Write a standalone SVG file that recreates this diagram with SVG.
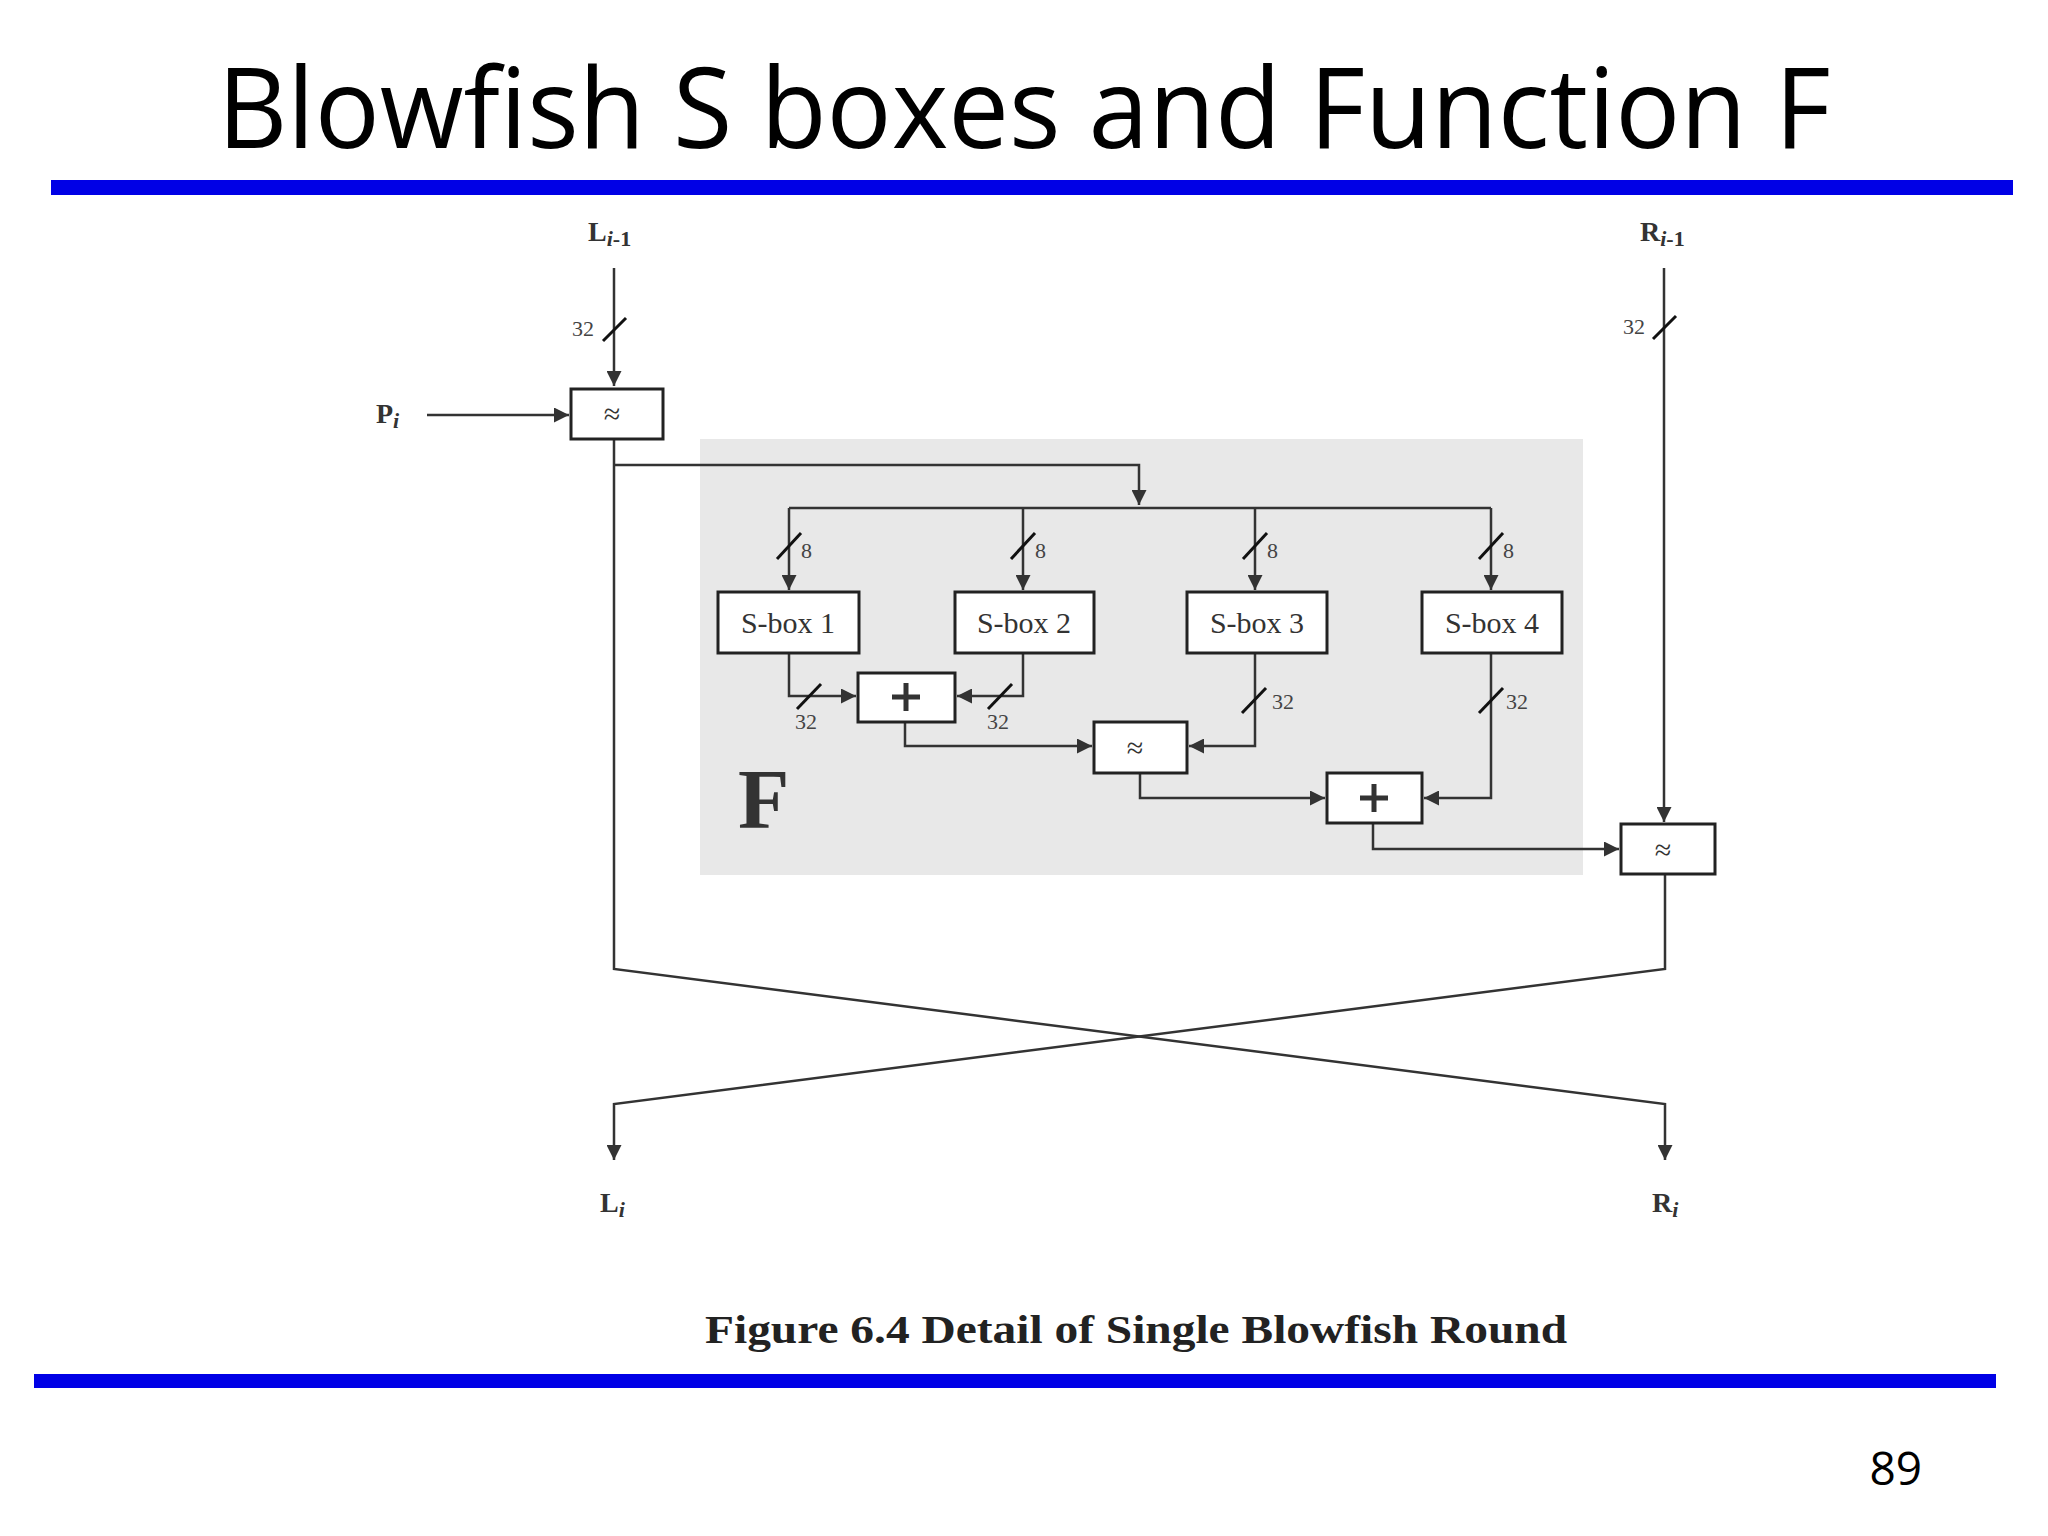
<svg xmlns="http://www.w3.org/2000/svg" width="2048" height="1536" viewBox="0 0 2048 1536">
<style>
.ln{stroke:#333;stroke-width:2.5;fill:none}
.bx{fill:#fff;stroke:#222;stroke-width:3}
.sl{stroke:#111;stroke-width:3}
.lb{font-family:"Liberation Serif",serif;font-weight:bold;fill:#333}
.sm{font-family:"Liberation Serif",serif;font-size:22px;fill:#444}
.sb{font-family:"Liberation Serif",serif;font-size:30px;fill:#333;text-anchor:middle}
.pl{stroke:#333;stroke-width:5}
</style>
<defs><marker id="a" viewBox="0 0 10 10" refX="10" refY="5" markerWidth="6" markerHeight="6" orient="auto" markerUnits="strokeWidth"><path d="M0,0L10,5L0,10z" fill="#333"/></marker></defs>
<rect width="2048" height="1536" fill="#fff"/>
<text x="1024" y="148" font-family="'Open Sans',sans-serif" font-size="112" text-anchor="middle" textLength="1613" lengthAdjust="spacingAndGlyphs" fill="#000">Blowfish S boxes and Function F</text>
<rect x="51" y="180" width="1962" height="15" fill="#0000e6"/>
<rect x="34" y="1374" width="1962" height="14" fill="#0000e6"/>
<text x="1922" y="1485" font-family="'Open Sans',sans-serif" font-size="46" text-anchor="end">89</text>
<rect x="700" y="439" width="883" height="436" fill="#e8e8e8"/>
<g id="connectors">
<path class="ln" d="M614,268V386" marker-end="url(#a)"/>
<path class="ln" d="M427,415H569" marker-end="url(#a)"/>
<path class="ln" d="M614,439V969L1665,1104V1160" marker-end="url(#a)"/>
<path class="ln" d="M1665,874V969L614,1104V1160" marker-end="url(#a)"/>
<path class="ln" d="M614,465H1139V505" marker-end="url(#a)"/>
<path class="ln" d="M789,508H1491"/>
<path class="ln" d="M789,508V590" marker-end="url(#a)"/>
<path class="ln" d="M1023,508V590" marker-end="url(#a)"/>
<path class="ln" d="M1255,508V590" marker-end="url(#a)"/>
<path class="ln" d="M1491,508V590" marker-end="url(#a)"/>
<path class="ln" d="M789,653V696H856" marker-end="url(#a)"/>
<path class="ln" d="M1023,653V696H957" marker-end="url(#a)"/>
<path class="ln" d="M905,722V746H1092" marker-end="url(#a)"/>
<path class="ln" d="M1255,653V746H1189" marker-end="url(#a)"/>
<path class="ln" d="M1140,773V798H1325" marker-end="url(#a)"/>
<path class="ln" d="M1491,653V798H1424" marker-end="url(#a)"/>
<path class="ln" d="M1373,823V849H1619" marker-end="url(#a)"/>
<path class="ln" d="M1664,268V822" marker-end="url(#a)"/>
<g class="sl">
<line x1="603" y1="341" x2="626" y2="318"/><line x1="1653" y1="339" x2="1676" y2="316"/>
<line x1="777" y1="559" x2="801" y2="533"/><line x1="1011" y1="559" x2="1035" y2="533"/>
<line x1="1243" y1="559" x2="1267" y2="533"/><line x1="1479" y1="559" x2="1503" y2="533"/>
<line x1="797" y1="709" x2="821" y2="684"/><line x1="988" y1="709" x2="1012" y2="684"/>
<line x1="1242" y1="713" x2="1266" y2="688"/><line x1="1479" y1="713" x2="1503" y2="688"/>
</g>
</g>
<g class="sm">
<text x="572" y="336">32</text><text x="1623" y="334">32</text>
<text x="801" y="558">8</text><text x="1035" y="558">8</text><text x="1267" y="558">8</text><text x="1503" y="558">8</text>
<text x="795" y="729">32</text><text x="987" y="729">32</text><text x="1272" y="709">32</text><text x="1506" y="709">32</text>
</g>
<g id="Li1"><text class="lb" x="588" y="241" font-size="28">L<tspan font-size="22" font-style="italic" dy="5">i</tspan><tspan font-size="22">-1</tspan></text></g>
<g id="Ri1"><text class="lb" x="1640" y="241" font-size="28">R<tspan font-size="22" font-style="italic" dy="5">i</tspan><tspan font-size="22">-1</tspan></text></g>
<g id="Pi"><text class="lb" x="376" y="423" font-size="28">P<tspan font-size="22" font-style="italic" dy="5">i</tspan></text></g>
<g id="Li"><text class="lb" x="600" y="1212" font-size="28">L<tspan font-size="22" font-style="italic" dy="5">i</tspan></text></g>
<g id="Ri"><text class="lb" x="1652" y="1212" font-size="28">R<tspan font-size="22" font-style="italic" dy="5">i</tspan></text></g>
<g id="xor1"><rect class="bx" x="571" y="389" width="92" height="50"/><text class="sb" x="612" y="424" font-size="28">≈</text></g>
<g id="sbox1"><rect class="bx" x="718" y="592" width="141" height="61"/><text class="sb" x="788" y="633">S-box 1</text></g>
<g id="sbox2"><rect class="bx" x="955" y="592" width="139" height="61"/><text class="sb" x="1024" y="633">S-box 2</text></g>
<g id="sbox3"><rect class="bx" x="1187" y="592" width="140" height="61"/><text class="sb" x="1257" y="633">S-box 3</text></g>
<g id="sbox4"><rect class="bx" x="1422" y="592" width="140" height="61"/><text class="sb" x="1492" y="633">S-box 4</text></g>
<g id="plus1"><rect class="bx" x="858" y="673" width="97" height="49"/><path class="pl" d="M892,697H920M906,683V711"/></g>
<g id="xor2"><rect class="bx" x="1094" y="722" width="93" height="51"/><text class="sb" x="1135" y="758" font-size="28">≈</text></g>
<g id="plus2"><rect class="bx" x="1327" y="773" width="95" height="50"/><path class="pl" d="M1360,798H1388M1374,784V812"/></g>
<g id="xor3"><rect class="bx" x="1621" y="824" width="94" height="50"/><text class="sb" x="1663" y="860" font-size="28">≈</text></g>
<text class="lb" x="738" y="828" font-size="84">F</text>
<text x="1136" y="1343" font-family="'Liberation Serif',serif" font-weight="bold" font-size="40" text-anchor="middle" textLength="862" lengthAdjust="spacingAndGlyphs" fill="#222">Figure 6.4  Detail of Single Blowfish Round</text>
</svg>
